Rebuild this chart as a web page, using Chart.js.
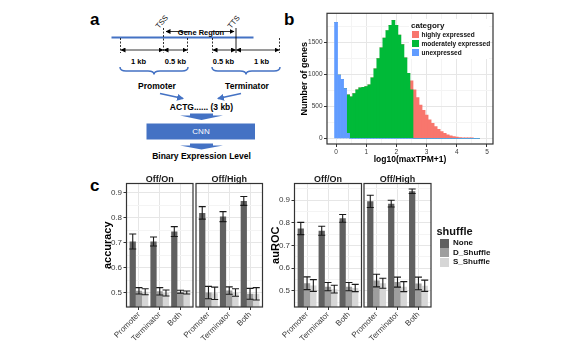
<!DOCTYPE html>
<html>
<head>
<meta charset="utf-8">
<script src="https://cdn.jsdelivr.net/npm/chart.js@4.4.1/dist/chart.umd.min.js"></script>
<style>
  body { margin: 0; background: #fff; }
  #fig { position: relative; width: 583px; height: 354px; overflow: hidden; background: #fff;
         font-family: "Liberation Sans", Arial, sans-serif; }
  #fig canvas, #fig svg { position: absolute; }
  .lab { position: absolute; white-space: nowrap; font-weight: bold; color: #111; line-height: 1; }
  .strip { position: absolute; width: 70px; text-align: center; font-size: 9px; font-weight: bold; color: #1a1a1a; line-height: 1; }
  .key { position: absolute; }
</style>
</head>
<body>
<div id="fig">

<!-- panel a : schematic -->
<svg width="583" height="354" style="left:0;top:0" font-family="Liberation Sans, Arial, sans-serif">
  <defs>
    <marker id="ak" markerWidth="5" markerHeight="5" refX="4.5" refY="2.5" orient="auto-start-reverse" markerUnits="userSpaceOnUse">
      <path d="M0,0 L5,2.5 L0,5 z" fill="#000"/>
    </marker>
    <marker id="ab" markerWidth="7" markerHeight="7" refX="6" refY="3.5" orient="auto" markerUnits="userSpaceOnUse">
      <path d="M0,0 L7,3.5 L0,7 z" fill="#4472C4"/>
    </marker>
  </defs>
  <text x="90" y="25" font-size="17" font-weight="bold">a</text>
  <text x="284" y="25" font-size="17" font-weight="bold">b</text>
  <text x="90" y="191" font-size="17" font-weight="bold">c</text>

  <line x1="111.5" y1="37.5" x2="253.5" y2="37.5" stroke="#4472C4" stroke-width="2"/>
  <g stroke="#000" stroke-width="0.8" stroke-dasharray="2,1.5">
    <line x1="120.5" y1="38" x2="120.5" y2="53"/>
    <line x1="163.5" y1="28" x2="163.5" y2="53"/>
    <line x1="187.5" y1="38" x2="187.5" y2="53"/>
    <line x1="212.5" y1="38" x2="212.5" y2="53"/>
    <line x1="279.5" y1="38" x2="279.5" y2="53"/>
  </g>
  <line x1="236" y1="28" x2="236" y2="53" stroke="#000" stroke-width="0.9"/>
  <text font-size="7.5" fill="#111" transform="translate(159,29) rotate(-50)">TSS</text>
  <text font-size="7.5" fill="#111" transform="translate(231,29) rotate(-50)">TTS</text>
  <g stroke="#000" stroke-width="0.8">
    <line x1="190" y1="31.5" x2="166" y2="31.5" marker-end="url(#ak)"/>
    <line x1="212" y1="31.5" x2="234" y2="31.5" marker-end="url(#ak)"/>
    <line x1="121" y1="50" x2="163" y2="50" marker-start="url(#ak)" marker-end="url(#ak)"/>
    <line x1="164" y1="50" x2="187" y2="50" marker-start="url(#ak)" marker-end="url(#ak)"/>
    <line x1="213" y1="50" x2="235.5" y2="50" marker-start="url(#ak)" marker-end="url(#ak)"/>
    <line x1="236.5" y1="50" x2="279" y2="50" marker-start="url(#ak)" marker-end="url(#ak)"/>
  </g>
  <text x="201" y="34.5" font-size="7.5" font-weight="bold" text-anchor="middle">Gene Region</text>
  <g font-size="7.5" font-weight="bold" text-anchor="middle">
    <text x="138.5" y="64">1 kb</text>
    <text x="175.5" y="64">0.5 kb</text>
    <text x="223.5" y="64">0.5 kb</text>
    <text x="261.5" y="64">1 kb</text>
  </g>
  <g stroke="#4472C4" stroke-width="1.5" fill="none">
    <path d="M120,67 Q120,71 126,71 L148,71 Q154,71 154,74.5 Q154,71 160,71 L182,71 Q188,71 188,67"/>
    <path d="M212,67 Q212,71 218,71 L240,71 Q246,71 246,74.5 Q246,71 252,71 L274,71 Q280,71 280,67"/>
  </g>
  <g font-size="8.5" font-weight="bold" text-anchor="middle">
    <text x="157" y="89">Promoter</text>
    <text x="247" y="89">Terminator</text>
    <text x="201.5" y="110">ACTG...... (3 kb)</text>
    <text x="201.5" y="159">Binary Expression Level</text>
  </g>
  <g stroke="#4472C4" stroke-width="1.6">
    <line x1="160" y1="93.5" x2="183" y2="98.5" marker-end="url(#ab)"/>
    <line x1="241" y1="93.5" x2="218" y2="98.5" marker-end="url(#ab)"/>
  </g>
  <polygon points="190,113.5 213,113.5 213,115.5 223,115.5 201.5,120 180,115.5 190,115.5" fill="#4472C4"/>
  <rect x="146.5" y="123.5" width="108.5" height="16" fill="#4472C4"/>
  <text x="201" y="134.3" font-size="8" fill="#fff" text-anchor="middle">CNN</text>
  <polygon points="190,143.5 213,143.5 213,145.5 223,145.5 201.5,149.5 180,145.5 190,145.5" fill="#4472C4"/>
</svg>

<canvas id="hist" width="197" height="161" style="left:298px;top:5px"></canvas>
<canvas id="accOn" width="99" height="175" style="left:96px;top:174px"></canvas>
<canvas id="accHigh" width="89" height="175" style="left:176px;top:174px"></canvas>
<canvas id="aucOn" width="98" height="175" style="left:266px;top:174px"></canvas>
<canvas id="aucHigh" width="89" height="175" style="left:344px;top:174px"></canvas>

<!-- panel b legend -->
<div class="key" style="left:409px;top:19px;width:80px;height:40px;background:#fff"></div>
<div class="lab" style="left:411px;top:22px;font-size:8px">category</div>
<div class="key" style="left:412px;top:31px;width:7px;height:7px;background:#F8766D"></div>
<div class="key" style="left:412px;top:40px;width:7px;height:7px;background:#00BA38"></div>
<div class="key" style="left:412px;top:49px;width:7px;height:7px;background:#619CFF"></div>
<div class="lab" style="left:421.5px;top:31.5px;font-size:6.5px">highly expressed</div>
<div class="lab" style="left:421.5px;top:40.5px;font-size:6.5px">moderately expressed</div>
<div class="lab" style="left:421.5px;top:49.5px;font-size:6.5px">unexpressed</div>

<!-- panel c strips and legend -->
<div class="strip" style="left:124.75px;top:174.5px">Off/On</div>
<div class="strip" style="left:194.25px;top:174.5px">Off/High</div>
<div class="strip" style="left:293px;top:174.5px">Off/On</div>
<div class="strip" style="left:362.5px;top:174.5px">Off/High</div>

<div class="lab" style="left:436.5px;top:225.5px;font-size:11px">shuffle</div>
<div class="key" style="left:440px;top:238.5px;width:8.5px;height:9px;background:#606060"></div>
<div class="key" style="left:440px;top:248px;width:8.5px;height:9px;background:#9e9e9e"></div>
<div class="key" style="left:440px;top:257.5px;width:8.5px;height:9px;background:#d6d6d6"></div>
<div class="lab" style="left:453px;top:239px;font-size:8px">None</div>
<div class="lab" style="left:453px;top:248.5px;font-size:8px">D_Shuffle</div>
<div class="lab" style="left:453px;top:258px;font-size:8px">S_Shuffle</div>
</div>

<script>
// ---- panel b : histogram of log10(maxTPM+1), bins of 0.1 ----
const binCenters = [0, 0.1, 0.2, 0.3, 0.4, 0.5, 0.6, 0.7, 0.8, 0.9,
  1, 1.1, 1.2, 1.3, 1.4, 1.5, 1.6, 1.7, 1.8, 1.9,
  2, 2.1, 2.2, 2.3, 2.4, 2.5, 2.6, 2.7, 2.8, 2.9,
  3, 3.1, 3.2, 3.3, 3.4, 3.5, 3.6, 3.7, 3.8, 3.9,
  4, 4.1, 4.2, 4.3, 4.4, 4.5, 4.6, 4.7];
const unexpressed = [1820, 990, 925, 780, 80, 0, 0, 0, 0, 0,
  0, 0, 0, 0, 0, 0, 0, 0, 0, 0,
  0, 0, 0, 0, 0, 0, 0, 0, 0, 0,
  0, 0, 0, 0, 0, 0, 0, 0, 0, 0,
  0, 0, 0, 0, 0, 0, 0, 0];
const moderately = [0, 0, 0, 0, 600, 650, 700, 760, 790, 800,
  810, 840, 950, 1090, 1250, 1420, 1570, 1690, 1770, 1850,
  1770, 1620, 1470, 1260, 1020, 760, 0, 0, 0, 0,
  0, 0, 0, 0, 0, 0, 0, 0, 0, 0,
  0, 0, 0, 0, 0, 0, 0, 0];
const highly = [0, 0, 0, 0, 0, 0, 0, 0, 0, 0,
  0, 0, 0, 0, 0, 0, 0, 0, 0, 0,
  0, 0, 0, 0, 0, 140, 760, 640, 520, 440,
  365, 290, 235, 185, 140, 105, 78, 55, 40, 28,
  18, 12, 8, 5, 3, 2, 0, 0];
const histXTicks = [0, 0.5, 1, 1.5, 2, 2.5, 3, 3.5, 4, 4.5, 5];
const histYTicks = [0, 250, 500, 750, 1000, 1250, 1500, 1750];

// ---- panel c : model performance, rows = None, D_Shuffle, S_Shuffle ----
const regions = ['Promoter', 'Terminator', 'Both'];
const shuffles = ['None', 'D_Shuffle', 'S_Shuffle'];
const accOffOn      = [[0.705, 0.705, 0.745], [0.507, 0.505, 0.503], [0.503, 0.498, 0.500]];
const accOffOnErr   = [[0.030, 0.018, 0.020], [0.013, 0.015, 0.006], [0.012, 0.012, 0.006]];
const accOffHigh    = [[0.820, 0.805, 0.868], [0.500, 0.508, 0.495], [0.497, 0.500, 0.495]];
const accOffHighErr = [[0.025, 0.020, 0.018], [0.025, 0.015, 0.022], [0.025, 0.015, 0.025]];
const aucOffOn      = [[0.775, 0.765, 0.820], [0.533, 0.518, 0.518], [0.523, 0.507, 0.512]];
const aucOffOnErr   = [[0.027, 0.020, 0.017], [0.028, 0.018, 0.018], [0.026, 0.017, 0.016]];
const aucOffHigh    = [[0.895, 0.885, 0.940], [0.545, 0.538, 0.532], [0.533, 0.518, 0.522]];
const aucOffHighErr = [[0.027, 0.015, 0.010], [0.028, 0.022, 0.028], [0.022, 0.022, 0.025]];
const yTickVals   = [0.45, 0.5, 0.55, 0.6, 0.65, 0.7, 0.75, 0.8, 0.85, 0.9, 0.95];
const yTickLabels = ['', '0.5', '', '0.6', '', '0.7', '', '0.8', '', '0.9', ''];

Chart.defaults.font.family = '"Liberation Sans", Arial, sans-serif';

const barColors = ['#606060', '#9e9e9e', '#d6d6d6'];
const MAJOR = '#e6e6e6', MINOR = '#f4f4f4', TICK = '#333333', TXT = '#3a3a3a';

// ggplot-like panel border
const framePlugin = {
  id: 'frame',
  afterDraw(chart) {
    const a = chart.chartArea, ctx = chart.ctx;
    ctx.save();
    ctx.strokeStyle = '#333';
    ctx.lineWidth = 1.2;
    ctx.strokeRect(a.left, a.top, a.right - a.left, a.bottom - a.top);
    ctx.restore();
  }
};

// error bars from dataset.errors
const errPlugin = {
  id: 'err',
  afterDatasetsDraw(chart) {
    const ctx = chart.ctx, y = chart.scales.y;
    ctx.save();
    ctx.strokeStyle = '#1a1a1a';
    ctx.lineWidth = 1.1;
    chart.data.datasets.forEach((ds, i) => {
      chart.getDatasetMeta(i).data.forEach((bar, j) => {
        const m = ds.data[j].y, e = ds.errors[j];
        const top = y.getPixelForValue(m + e), bot = y.getPixelForValue(m - e);
        ctx.beginPath();
        ctx.moveTo(bar.x, top); ctx.lineTo(bar.x, bot);
        ctx.moveTo(bar.x - 3.5, top); ctx.lineTo(bar.x + 3.5, top);
        ctx.moveTo(bar.x - 3.5, bot); ctx.lineTo(bar.x + 3.5, bot);
        ctx.stroke();
      });
    });
    ctx.restore();
  }
};

// ================================
// HISTOGRAM
// ================================
new Chart(document.getElementById('hist'), {
  type: 'bar',
  data: {
    datasets: [
      { label: 'unexpressed', data: binCenters.map((x, i) => ({x, y: unexpressed[i]})), backgroundColor: '#619CFF' },
      { label: 'moderately expressed', data: binCenters.map((x, i) => ({x, y: moderately[i]})), backgroundColor: '#00BA38' },
      { label: 'highly expressed', data: binCenters.map((x, i) => ({x, y: highly[i]})), backgroundColor: '#F8766D' }
    ]
  },
  options: {
    responsive: false, animation: false, devicePixelRatio: 1,
    layout: { padding: { top: 8.3, right: 2, left: 0, bottom: 0 } },
    plugins: { legend: { display: false }, tooltip: { enabled: false } },
    datasets: { bar: { barPercentage: 1, categoryPercentage: 1, borderWidth: 0 } },
    scales: {
      x: {
        type: 'linear', stacked: true, min: -0.3, max: 5.2, offset: false,
        afterBuildTicks: s => { s.ticks = histXTicks.map(v => ({value: v})); },
        afterFit: s => { s.height = 22; },
        ticks: { callback: v => Number.isInteger(v) ? String(v) : '', maxRotation: 0, autoSkip: false,
                 padding: 1, color: TXT, font: { size: 6.5 } },
        grid: { offset: false, color: c => Number.isInteger(c.tick.value) ? MAJOR : MINOR,
                tickColor: c => Number.isInteger(c.tick.value) ? TICK : 'rgba(0,0,0,0)', tickLength: 3 },
        border: { display: false },
        title: { display: true, text: 'log10(maxTPM+1)', color: '#000', font: { size: 8.5, weight: 'bold' },
                 padding: { top: 0, bottom: 0.9 } }
      },
      y: {
        stacked: true, min: -89, max: 1960,
        afterBuildTicks: s => { s.ticks = histYTicks.map(v => ({value: v})); },
        afterFit: s => { s.width = 29; },
        ticks: { callback: v => v % 500 === 0 ? String(v) : '', padding: 1.5, color: TXT, font: { size: 6.5 } },
        grid: { color: c => c.tick.value % 500 === 0 ? MAJOR : MINOR,
                tickColor: c => c.tick.value % 500 === 0 ? TICK : 'rgba(0,0,0,0)', tickLength: 3 },
        border: { display: false },
        title: { display: true, text: 'Number of genes', color: '#000', font: { size: 9, weight: 'bold' },
                 padding: { top: 1.1, bottom: 0 } }
      }
    }
  },
  plugins: [framePlugin]
});

// ================================
// FACETS
// ================================
function facet(id, means, errs, yMin, yMax, yTitle, yWidth, pad, titlePad) {
  const showY = !!yTitle;
  const isMajor = v => yTickLabels[yTickVals.indexOf(v)] !== '';
  return new Chart(document.getElementById(id), {
    type: 'bar',
    data: {
      datasets: shuffles.map((s, k) => ({
        label: s,
        data: regions.map((r, i) => ({x: i, y: means[k][i]})),
        errors: errs[k],
        backgroundColor: barColors[k]
      }))
    },
    options: {
      responsive: false, animation: false, devicePixelRatio: 1,
      layout: { padding: pad },
      plugins: { legend: { display: false }, tooltip: { enabled: false } },
      datasets: { bar: { barPercentage: 1, categoryPercentage: 0.9, borderWidth: 0 } },
      scales: {
        x: {
          type: 'linear', min: -0.6, max: 2.6, offset: false,
          afterBuildTicks: s => { s.ticks = regions.map((r, i) => ({value: i})); },
          afterFit: s => { s.height = 42; },
          ticks: { callback: v => regions[v], minRotation: 45, maxRotation: 45, autoSkip: false,
                   padding: 0, color: TXT, font: { size: 8 } },
          grid: { offset: false, color: MAJOR, tickColor: TICK, tickLength: 3 },
          border: { display: false }
        },
        y: {
          min: yMin, max: yMax,
          afterBuildTicks: s => { s.ticks = yTickVals.filter(v => v >= yMin && v <= yMax).map(v => ({value: v})); },
          afterFit: s => { s.width = yWidth; },
          ticks: { display: showY, callback: v => yTickLabels[yTickVals.indexOf(v)], autoSkip: false,
                   padding: 1.5, color: TXT, font: { size: 8 } },
          grid: { color: c => isMajor(c.tick.value) ? MAJOR : MINOR,
                  tickColor: c => isMajor(c.tick.value) ? TICK : 'rgba(0,0,0,0)',
                  tickLength: 3, drawTicks: showY },
          border: { display: false },
          title: { display: showY, text: yTitle || '', color: '#000', font: { size: 11, weight: 'bold' },
                   padding: { top: titlePad, bottom: 0 } }
        }
      }
    },
    plugins: [errPlugin, framePlugin]
  });
}

facet('accOn',   accOffOn,   accOffOnErr,   0.442, 0.938, 'accuracy', 30.5, {top: 9.5, right: 2, left: 0, bottom: 0}, 5.7);
facet('accHigh', accOffHigh, accOffHighErr, 0.442, 0.938, null, 0,         {top: 9.5, right: 2.5, left: 20, bottom: 0}, 0);
facet('aucOn',   aucOffOn,   aucOffOnErr,   0.428, 0.974, 'auROC', 28.5,   {top: 9.5, right: 2.5, left: 0, bottom: 0}, 3.1);
facet('aucHigh', aucOffHigh, aucOffHighErr, 0.428, 0.974, null, 0,         {top: 9.5, right: 2, left: 20, bottom: 0}, 0);
</script>
</body>
</html>
